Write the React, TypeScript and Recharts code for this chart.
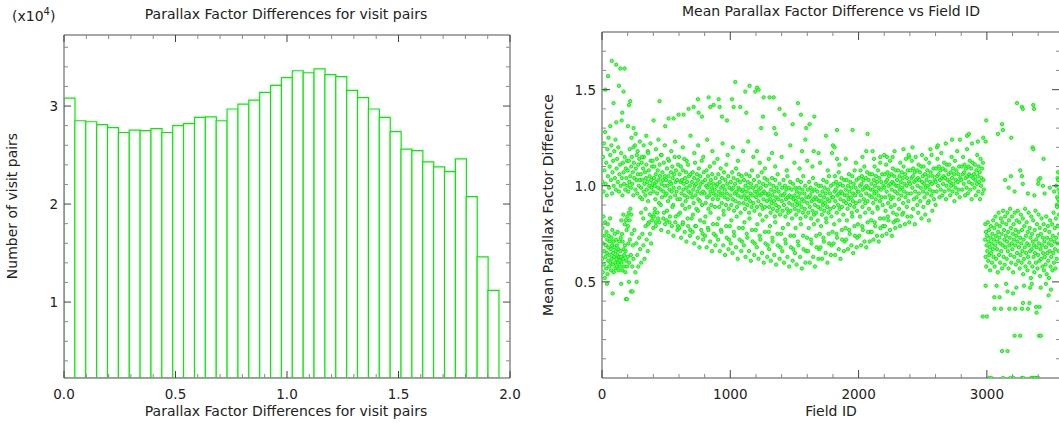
import React from 'react';
import { BarChart, Bar, XAxis, YAxis, ScatterChart, Scatter } from 'recharts';

// ---------- Histogram data ----------
const histBinCenters = [
  0.0244, 0.0731, 0.1219, 0.1706, 0.2194, 0.2681, 0.3169, 0.3656, 0.4144, 0.4631,
  0.5119, 0.5606, 0.6094, 0.6581, 0.7069, 0.7556, 0.8044, 0.8531, 0.9019, 0.9506,
  0.9994, 1.0481, 1.0969, 1.1456, 1.1944, 1.2431, 1.2919, 1.3406, 1.3894, 1.4381,
  1.4869, 1.5356, 1.5844, 1.6331, 1.6819, 1.7306, 1.7794, 1.8281, 1.8769, 1.9256,
];
const histCounts = [
  30800, 28500, 28400, 28100, 27800, 27300, 27550, 27500, 27700, 27300,
  28000, 28200, 28850, 28900, 28500, 29700, 30200, 30600, 31400, 32100,
  32900, 33600, 33400, 33800, 33200, 33000, 31600, 30850, 29700, 28850,
  27400, 25600, 25450, 24300, 23800, 23300, 24600, 20750, 14600, 11200,
];
const histXTicks = [0, 0.1, 0.2, 0.3, 0.4, 0.5, 0.6, 0.7, 0.8, 0.9, 1.0, 1.1, 1.2, 1.3, 1.4, 1.5, 1.6, 1.7, 1.8, 1.9, 2.0];
const histYTicks = [4000, 6000, 8000, 10000, 12000, 14000, 16000, 18000, 20000, 22000, 24000, 26000, 28000, 30000, 32000, 34000, 36000];

// ---------- Scatter data: [field ID, mean parallax factor difference] ----------
const fieldTicks = [0, 200, 400, 600, 800, 1000, 1200, 1400, 1600, 1800, 2000, 2200, 2400, 2600, 2800, 3000, 3200, 3400];
const meanTicks = [0.1, 0.2, 0.3, 0.4, 0.5, 0.6, 0.7, 0.8, 0.9, 1.0, 1.1, 1.2, 1.3, 1.4, 1.5, 1.6, 1.7];

const earlyUpperPts = [
  [3,1.02],[8,1.15],[12,0.97],[15,1.22],[19,1.08],[24,1.28],[28,1.01],[33,1.12],[37,0.95],[42,1.19],[46,1.05],[51,1.25],
  [55,0.99],[60,1.10],[64,1.16],[69,1.03],[73,1.21],[78,0.96],[82,1.07],[87,1.13],[91,1.00],[96,1.18],[100,1.04],[105,1.24],
  [109,0.98],[114,1.09],[118,1.14],[123,1.02],[127,1.20],[132,0.97],[136,1.06],[141,1.11],[145,1.00],[150,1.17],[154,1.04],
  [159,0.95],[163,1.12],[168,1.07],[172,1.01],[177,1.15],[181,0.98],[186,1.09],[190,1.04],[195,1.13],[199,1.00],
];
const earlyLowerPts = [
  [2,0.62],[4,0.78],[6,0.55],[9,0.70],[11,0.84],[14,0.59],[17,0.66],[20,0.74],[22,0.52],[25,0.81],[27,0.63],[30,0.69],
  [32,0.57],[35,0.76],[38,0.65],[40,0.72],[43,0.54],[45,0.80],[48,0.61],[50,0.68],[53,0.74],[56,0.58],[58,0.64],[61,0.71],
  [63,0.83],[66,0.60],[68,0.67],[71,0.56],[74,0.73],[76,0.62],[79,0.69],[81,0.77],[84,0.59],[86,0.65],[89,0.71],[92,0.55],
  [94,0.63],[97,0.68],[99,0.75],[102,0.60],[104,0.57],[107,0.66],[110,0.72],[112,0.62],[115,0.58],[117,0.69],[120,0.64],
  [122,0.76],[125,0.60],[128,0.67],[130,0.56],[133,0.63],[135,0.71],[138,0.61],[140,0.58],[143,0.66],[146,0.73],[148,0.63],
  [151,0.82],[153,0.60],[156,0.75],[158,0.56],[161,0.71],[164,0.62],[166,0.85],[169,0.67],[171,0.58],[174,0.64],[176,0.80],
  [179,0.69],[182,0.55],[184,0.66],[187,0.82],[189,0.61],[192,0.77],[195,0.58],[197,0.84],[200,0.63],[203,0.79],[206,0.70],
  [209,0.86],[212,0.60],[215,0.82],[218,0.72],[221,0.88],[225,0.64],[229,0.85],[233,0.75],[236,0.58],[240,0.69],
  [245,0.62],[252,0.77],[260,0.55],[268,0.70],[275,0.64],[283,0.58],[290,0.73],[298,0.67],[306,0.60],[315,0.75],[323,0.69],
  [331,0.62],[340,0.79],[348,0.72],[357,0.66],[366,0.81],[374,0.75],[383,0.70],[392,0.84],[400,0.78],[410,0.86],[420,0.81],
  [39,0.49],[83,0.44],[150,0.49],[187,0.41],[210,0.50],[226,0.45],[238,0.45],[270,0.50],[195,0.41],
];
const bandPts = [
  [201,1.08],[204,0.97],[209,1.13],[213,1.02],[216,1.19],[221,1.05],[225,0.99],[228,1.10],[232,1.15],[236,1.01],[240,1.07],[244,0.95],[249,1.12],[252,1.04],[257,1.21],[260,0.98],[264,1.09],[268,1.03],[271,1.16],[275,0.96],[279,1.06],[283,1.11],[287,1.00],[290,1.14],[294,1.03],[298,0.94],
  [302,1.06],[305,0.99],[309,1.12],[313,0.93],[316,1.03],[320,1.09],[324,0.97],[327,1.15],[331,1.01],[335,1.07],[338,0.95],[342,1.04],[346,1.11],[349,0.98],[353,1.02],[357,1.18],[360,0.92],[364,1.08],[368,1.00],[371,1.05],[375,0.96],[379,1.13],[383,1.03],[386,0.99],[390,1.10],[395,1.01],
  [401,0.97],[405,1.04],[408,1.10],[412,1.00],[416,0.93],[419,1.06],[423,1.02],[427,1.14],[430,0.96],[434,1.08],[438,0.99],[441,1.03],[445,0.91],[449,1.11],[452,1.05],[456,0.98],[460,1.16],[463,1.01],[467,0.94],[471,1.07],[474,1.03],[478,0.97],[482,1.12],[486,1.00],[489,1.05],[494,0.95],
  [500,1.03],[504,0.96],[507,1.09],[511,1.00],[515,0.92],[518,1.05],[522,1.13],[526,0.98],[529,1.02],[533,0.94],[537,1.07],[540,1.01],[544,0.97],[548,1.10],[551,1.04],[555,0.90],[559,0.99],[562,1.06],[566,1.15],[570,0.95],[573,1.02],[577,1.08],[581,0.97],[585,1.03],[588,0.93],[593,1.11],
  [601,0.99],[604,1.06],[608,0.93],[612,1.02],[615,1.10],[619,0.96],[623,1.03],[626,0.90],[630,1.08],[634,0.98],[637,1.01],[641,1.14],[645,0.95],[648,1.04],[652,0.92],[656,1.07],[659,0.99],[663,1.02],[667,0.94],[670,1.11],[674,0.97],[678,1.05],[681,0.89],[685,1.00],[689,1.06],[694,0.96],
  [700,1.02],[703,0.94],[707,1.07],[711,0.98],[714,0.91],[718,1.04],[722,1.00],[725,1.12],[729,0.95],[733,1.01],[736,0.88],[740,1.06],[744,0.97],[747,1.03],[751,0.93],[755,1.09],[758,0.99],[762,0.92],[766,1.05],[769,1.01],[773,0.96],[777,1.13],[780,0.90],[784,1.02],[788,0.97],[793,1.07],
  [801,0.96],[804,1.03],[808,0.91],[812,1.00],[815,1.08],[819,0.94],[823,0.99],[826,1.05],[830,0.88],[834,1.01],[837,0.95],[841,1.10],[845,0.97],[848,1.03],[852,0.90],[856,0.99],[859,1.06],[863,0.93],[867,1.01],[870,0.96],[874,1.12],[878,0.98],[881,0.89],[885,1.04],[889,0.95],[894,1.00],
  [900,1.01],[903,0.93],[907,1.06],[911,0.97],[914,0.89],[918,1.02],[922,0.95],[925,1.09],[929,0.99],[933,0.91],[936,1.04],[940,0.96],[944,1.00],[947,0.87],[951,1.07],[955,0.94],[958,0.98],[962,1.03],[966,0.90],[969,1.11],[973,0.96],[977,1.01],[980,0.93],[984,1.05],[988,0.88],[993,0.99],
  [1001,0.95],[1004,1.02],[1008,0.90],[1012,0.98],[1015,1.07],[1019,0.93],[1023,0.99],[1026,1.04],[1030,0.87],[1034,0.96],[1037,1.01],[1041,0.92],[1045,1.09],[1048,0.97],[1052,0.89],[1056,1.03],[1059,0.95],[1063,0.99],[1067,1.06],[1070,0.91],[1074,0.98],[1078,1.02],[1081,0.86],[1085,0.94],[1089,1.05],[1094,0.97],
  [1100,0.98],[1103,0.91],[1107,1.03],[1111,0.95],[1114,0.88],[1118,1.00],[1122,0.93],[1125,1.06],[1129,0.97],[1133,0.90],[1136,1.02],[1140,0.94],[1144,0.99],[1147,0.86],[1151,1.05],[1155,0.92],[1158,0.96],[1162,1.01],[1166,0.89],[1169,1.08],[1173,0.95],[1177,0.99],[1180,0.91],[1184,1.03],[1188,0.87],[1193,0.97],
  [1201,0.94],[1204,1.00],[1208,0.89],[1212,0.96],[1215,1.05],[1219,0.92],[1223,0.98],[1226,1.02],[1230,0.85],[1234,0.95],[1237,0.99],[1241,0.90],[1245,1.07],[1248,0.96],[1252,0.88],[1256,1.01],[1259,0.93],[1263,0.97],[1267,1.04],[1270,0.89],[1274,0.96],[1278,1.00],[1281,0.84],[1285,0.92],[1289,1.03],[1294,0.95],
  [1300,0.96],[1303,0.89],[1307,1.01],[1311,0.93],[1314,0.86],[1318,0.98],[1322,0.91],[1325,1.04],[1329,0.95],[1333,0.88],[1336,1.00],[1340,0.92],[1344,0.97],[1347,0.84],[1351,1.03],[1355,0.90],[1358,0.94],[1362,0.99],[1366,0.87],[1369,1.06],[1373,0.93],[1377,0.97],[1380,0.89],[1384,1.01],[1388,0.85],[1393,0.95],
  [1401,0.92],[1404,0.99],[1408,0.87],[1412,0.95],[1415,1.03],[1419,0.90],[1423,0.96],[1426,1.00],[1430,0.84],[1434,0.93],[1437,0.98],[1441,0.88],[1445,1.05],[1448,0.94],[1452,0.86],[1456,0.99],[1459,0.91],[1463,0.95],[1467,1.02],[1470,0.87],[1474,0.94],[1478,0.98],[1481,0.83],[1485,0.90],[1489,1.01],[1494,0.93],
  [1500,0.95],[1503,0.88],[1507,0.99],[1511,0.92],[1514,0.85],[1518,0.97],[1522,0.90],[1525,1.03],[1529,0.94],[1533,0.87],[1536,0.99],[1540,0.91],[1544,0.96],[1547,0.83],[1551,1.02],[1555,0.89],[1558,0.93],[1562,0.98],[1566,0.86],[1569,1.05],[1573,0.92],[1577,0.96],[1580,0.88],[1584,1.00],[1588,0.84],[1593,0.94],
  [1601,0.91],[1604,0.98],[1608,0.86],[1612,0.94],[1615,1.02],[1619,0.89],[1623,0.95],[1626,0.99],[1630,0.83],[1634,0.92],[1637,0.97],[1641,0.87],[1645,1.04],[1648,0.93],[1652,0.85],[1656,0.98],[1659,0.90],[1663,0.94],[1667,1.01],[1670,0.86],[1674,0.93],[1678,0.97],[1681,0.82],[1685,0.89],[1689,1.00],[1694,0.92],
  [1700,0.95],[1703,0.88],[1707,1.00],[1711,0.92],[1714,0.85],[1718,0.97],[1722,0.90],[1725,1.03],[1729,0.94],[1733,0.87],[1736,0.99],[1740,0.91],[1744,0.96],[1747,0.83],[1751,1.02],[1755,0.89],[1758,0.93],[1762,0.98],[1766,0.86],[1769,1.05],[1773,0.92],[1777,0.96],[1780,0.88],[1784,1.00],[1788,0.84],[1793,0.94],
  [1801,0.94],[1804,1.01],[1808,0.89],[1812,0.97],[1815,1.05],[1819,0.92],[1823,0.98],[1826,1.02],[1830,0.86],[1834,0.95],[1837,1.00],[1841,0.90],[1845,1.07],[1848,0.96],[1852,0.88],[1856,1.01],[1859,0.93],[1863,0.97],[1867,1.04],[1870,0.89],[1874,0.96],[1878,1.00],[1881,0.85],[1885,0.92],[1889,1.03],[1894,0.95],
  [1900,0.98],[1903,0.91],[1907,1.03],[1911,0.95],[1914,0.88],[1918,1.00],[1922,0.93],[1925,1.06],[1929,0.97],[1933,0.90],[1936,1.02],[1940,0.94],[1944,0.99],[1947,0.86],[1951,1.05],[1955,0.92],[1958,0.96],[1962,1.01],[1966,0.89],[1969,1.08],[1973,0.95],[1977,0.99],[1980,0.91],[1984,1.03],[1988,0.87],[1993,0.97],
  [2001,0.97],[2004,1.04],[2008,0.92],[2012,1.00],[2015,1.08],[2019,0.95],[2023,1.01],[2026,1.05],[2030,0.89],[2034,0.98],[2037,1.03],[2041,0.93],[2045,1.10],[2048,0.99],[2052,0.91],[2056,1.04],[2059,0.96],[2063,1.00],[2067,1.07],[2070,0.92],[2074,0.99],[2078,1.03],[2081,0.88],[2085,0.95],[2089,1.06],[2094,0.98],
  [2100,1.01],[2103,0.94],[2107,1.06],[2111,0.98],[2114,0.91],[2118,1.03],[2122,0.96],[2125,1.10],[2129,1.00],[2133,0.93],[2136,1.05],[2140,0.97],[2144,1.02],[2147,0.89],[2151,1.08],[2155,0.95],[2158,0.99],[2162,1.04],[2166,0.92],[2169,1.12],[2173,0.98],[2177,1.02],[2180,0.94],[2184,1.06],[2188,0.90],[2193,1.00],
  [2201,0.99],[2204,1.06],[2208,0.94],[2212,1.02],[2215,1.11],[2219,0.97],[2223,1.03],[2226,1.07],[2230,0.91],[2234,1.00],[2237,1.05],[2241,0.95],[2245,1.13],[2248,1.01],[2252,0.93],[2256,1.06],[2259,0.98],[2263,1.02],[2267,1.09],[2270,0.94],[2274,1.01],[2278,1.05],[2281,0.90],[2285,0.97],[2289,1.08],[2294,1.00],
  [2300,1.03],[2303,0.96],[2307,1.08],[2311,1.00],[2314,0.93],[2318,1.05],[2322,0.98],[2325,1.12],[2329,1.02],[2333,0.95],[2336,1.07],[2340,0.99],[2344,1.04],[2347,0.91],[2351,1.10],[2355,0.97],[2358,1.01],[2362,1.06],[2366,0.94],[2369,1.14],[2373,1.00],[2377,1.04],[2380,0.96],[2384,1.08],[2388,0.92],[2393,1.02],
  [2401,1.01],[2404,1.08],[2408,0.96],[2412,1.04],[2415,1.13],[2419,0.99],[2423,1.05],[2426,1.09],[2430,0.93],[2434,1.02],[2437,1.07],[2441,0.97],[2445,1.15],[2448,1.03],[2452,0.94],[2456,1.08],[2459,1.00],[2463,1.04],[2467,1.11],[2470,0.96],[2474,1.03],[2478,1.07],[2481,0.92],[2485,0.99],[2489,1.10],[2494,1.02],
  [2500,1.05],[2503,0.97],[2507,1.10],[2511,1.01],[2514,0.94],[2518,1.06],[2522,0.99],[2525,1.14],[2529,1.03],[2533,0.96],[2536,1.08],[2540,1.00],[2544,1.05],[2547,0.92],[2551,1.12],[2555,0.98],[2558,1.02],[2562,1.07],[2566,0.95],[2569,1.16],[2573,1.01],[2577,1.05],[2580,0.97],[2584,1.09],[2588,0.93],[2593,1.03],
  [2601,1.02],[2604,1.09],[2608,0.97],[2612,1.05],[2615,1.14],[2619,1.00],[2623,1.06],[2626,1.10],[2630,0.94],[2634,1.03],[2637,1.08],[2641,0.98],[2645,1.17],[2648,1.04],[2652,0.95],[2656,1.09],[2659,1.01],[2663,1.05],[2667,1.12],[2670,0.97],[2674,1.04],[2678,1.08],[2681,0.93],[2685,1.00],[2689,1.11],[2694,1.03],
  [2700,1.06],[2703,0.98],[2707,1.11],[2711,1.02],[2714,0.95],[2718,1.07],[2722,1.00],[2725,1.15],[2729,1.04],[2733,0.97],[2736,1.09],[2740,1.01],[2744,1.06],[2747,0.92],[2751,1.13],[2755,0.99],[2758,1.03],[2762,1.08],[2766,0.96],[2769,1.18],[2773,1.02],[2777,1.06],[2780,0.98],[2784,1.10],[2788,0.94],[2793,1.04],
  [2801,1.03],[2804,1.10],[2808,0.98],[2812,1.06],[2815,1.15],[2819,1.01],[2823,1.07],[2826,1.11],[2830,0.95],[2834,1.04],[2837,1.09],[2841,0.99],[2845,1.19],[2848,1.05],[2852,0.96],[2856,1.10],[2859,1.02],[2863,1.06],[2867,1.13],[2870,0.98],[2874,1.05],[2878,1.09],[2881,0.93],[2885,1.01],[2889,1.12],[2894,1.04],
  [2900,1.06],[2903,0.99],[2907,1.11],[2911,1.03],[2914,0.95],[2918,1.08],[2922,1.01],[2925,1.16],[2929,1.05],[2933,0.97],[2936,1.10],[2940,1.02],[2944,1.07],[2947,0.93],[2951,1.14],[2955,1.00],[2958,1.04],[2962,1.09],[2966,0.96],[2969,1.12],[2973,1.03],[2977,0.98],
];
const midFillPts = [
  [412,0.88],[437,0.83],[458,0.90],[483,0.86],
  [507,0.87],[526,0.81],[549,0.89],[574,0.84],[593,0.79],
  [609,0.86],[628,0.80],[649,0.88],[667,0.83],[688,0.77],
  [709,0.85],[727,0.79],[748,0.87],[765,0.82],[784,0.75],
  [806,0.84],[825,0.78],[846,0.86],[866,0.80],[887,0.74],
  [909,0.83],[928,0.77],[949,0.85],[968,0.79],[990,0.72],
  [1008,0.82],[1027,0.76],[1050,0.84],[1068,0.78],[1091,0.71],
  [1110,0.81],[1128,0.75],[1150,0.83],[1169,0.77],[1191,0.70],
  [1211,0.80],[1229,0.74],[1252,0.82],[1270,0.76],[1292,0.69],
  [1309,0.79],[1328,0.73],[1350,0.81],[1368,0.75],[1390,0.68],
  [1410,0.78],[1428,0.72],[1451,0.80],[1469,0.74],[1491,0.67],
  [1509,0.78],[1527,0.71],[1550,0.80],[1568,0.74],[1590,0.66],
  [1611,0.78],[1629,0.72],[1652,0.80],[1670,0.74],[1692,0.67],
  [1708,0.79],[1726,0.73],[1749,0.81],[1767,0.75],[1789,0.69],
  [1810,0.80],[1828,0.75],[1851,0.82],[1869,0.77],[1891,0.71],
  [1909,0.82],[1927,0.77],[1950,0.84],[1968,0.79],[1990,0.73],
  [2011,0.84],[2029,0.79],[2052,0.86],[2070,0.81],[2092,0.76],
  [2108,0.86],[2126,0.81],[2149,0.88],[2167,0.83],[2189,0.79],
  [2210,0.87],[2228,0.84],[2251,0.89],[2269,0.86],[2291,0.82],
  [2315,0.88],[2348,0.86],[2376,0.89],[2425,0.88],[2458,0.90],[2505,0.89],[2540,0.91],[2600,0.90],
];
const lowerBranchPts = [
  [305,0.86],[322,0.83],[340,0.88],[358,0.80],[372,0.85],[390,0.82],
  [405,0.84],[418,0.79],[433,0.86],[447,0.81],[462,0.77],[478,0.83],[492,0.80],
  [503,0.82],[516,0.76],[529,0.84],[544,0.79],[557,0.74],[571,0.81],[588,0.77],[596,0.85],
  [604,0.78],[617,0.73],[631,0.81],[645,0.76],[658,0.71],[672,0.79],[686,0.74],[699,0.83],
  [706,0.76],[719,0.70],[733,0.79],[747,0.73],[760,0.68],[774,0.77],[788,0.72],[797,0.81],
  [803,0.74],[816,0.68],[830,0.77],[843,0.71],[857,0.66],[871,0.75],[884,0.69],[898,0.80],
  [905,0.72],[918,0.66],[932,0.76],[945,0.69],[959,0.64],[972,0.73],[986,0.67],[996,0.79],
  [1004,0.70],[1017,0.65],[1031,0.74],[1045,0.68],[1058,0.62],[1072,0.72],[1086,0.66],[1097,0.78],
  [1106,0.69],[1119,0.63],[1133,0.73],[1146,0.66],[1160,0.61],[1173,0.71],[1187,0.64],[1198,0.77],
  [1207,0.68],[1220,0.62],[1234,0.72],[1247,0.65],[1261,0.60],[1274,0.70],[1288,0.63],[1299,0.76],
  [1303,0.67],[1316,0.61],[1330,0.71],[1343,0.64],[1357,0.59],[1370,0.69],[1384,0.62],[1396,0.75],
  [1405,0.66],[1418,0.60],[1432,0.70],[1445,0.63],[1459,0.58],[1472,0.68],[1486,0.61],[1497,0.74],
  [1504,0.65],[1517,0.59],[1531,0.69],[1544,0.63],[1558,0.57],[1571,0.67],[1585,0.60],[1598,0.73],
  [1606,0.66],[1619,0.60],[1633,0.70],[1646,0.63],[1660,0.58],[1673,0.68],[1687,0.62],[1698,0.75],
  [1703,0.68],[1716,0.62],[1730,0.71],[1743,0.65],[1757,0.60],[1770,0.70],[1784,0.64],[1797,0.76],
  [1805,0.70],[1818,0.64],[1832,0.73],[1845,0.67],[1859,0.62],[1872,0.72],[1886,0.66],[1898,0.78],
  [1904,0.72],[1917,0.67],[1931,0.75],[1944,0.69],[1958,0.65],[1971,0.74],[1985,0.68],[1996,0.80],
  [2006,0.74],[2019,0.69],[2033,0.77],[2046,0.71],[2060,0.68],[2073,0.76],[2087,0.71],[2098,0.82],
  [2103,0.76],[2116,0.72],[2130,0.79],[2143,0.74],[2157,0.71],[2170,0.78],[2184,0.74],[2197,0.83],
  [2205,0.79],[2218,0.75],[2232,0.82],[2245,0.77],[2259,0.74],[2272,0.81],[2286,0.78],[2298,0.85],
  [2306,0.82],[2322,0.79],[2340,0.85],[2361,0.80],[2380,0.84],[2395,0.81],
  [2412,0.84],[2438,0.80],[2465,0.86],[2490,0.83],[2520,0.85],[2548,0.82],[2575,0.87],
];
const upperArcPts = [
  [26,1.50],[47,1.57],[76,1.65],[111,1.63],[143,1.61],[176,1.61],[132,1.52],[168,1.49],[90,1.43],[220,1.44],[210,1.42],
  [158,1.38],[111,1.33],[65,1.31],[202,1.31],[153,1.34],[449,1.44],[246,1.30],[402,1.34],[493,1.31],[519,1.35],[558,1.35],
  [597,1.37],[636,1.37],[675,1.40],[714,1.41],[748,1.45],[753,1.38],[779,1.36],[831,1.46],[844,1.41],[870,1.42],[909,1.45],
  [917,1.41],[935,1.36],[974,1.34],[1013,1.45],[1026,1.41],[1039,1.54],[1078,1.41],[1117,1.49],[1150,1.52],[1125,1.38],
  [1195,1.49],[1208,1.51],[1221,1.50],[1260,1.46],[1306,1.46],[1338,1.46],[1384,1.40],[1527,1.43],[1255,1.36],[1423,1.37],
  [1551,1.37],[1655,1.36],[1241,1.30],[1343,1.30],[1356,1.27],[1486,1.32],[1592,1.30],[1618,1.32],[1585,1.24],[1746,1.26],
  [1832,1.29],[1953,1.29],[2070,1.27],[1468,1.21],[1559,1.18],[1800,1.21],[1813,1.20],[1650,1.18],[1208,1.18],[1325,1.17],
  [2060,1.18],[2109,1.18],[1688,1.17],[1793,1.17],[1832,1.14],[2169,1.15],[2221,1.15],[2265,1.15],[2395,1.15],
  [230,1.25],[245,1.20],[262,1.27],[278,1.18],[295,1.23],[310,1.15],[325,1.21],[345,1.26],[360,1.17],[378,1.22],[395,1.13],
  [420,1.19],[440,1.24],[465,1.16],[490,1.21],[515,1.14],[540,1.18],[570,1.23],[600,1.15],[630,1.20],[660,1.13],[690,1.26],
  [720,1.17],[750,1.21],[790,1.15],[820,1.24],[860,1.18],[900,1.14],[940,1.22],[980,1.16],[1020,1.20],[1060,1.13],[1100,1.18],
  [1140,1.23],[1180,1.15],[1230,1.12],[1270,1.09],[1300,1.14],[1350,1.10],[1400,1.15],[1440,1.08],[1500,1.12],[1540,1.09],
  [1600,1.13],[1640,1.10],[1700,1.12],[1760,1.08],[1850,1.11],[1900,1.14],[1980,1.12],[2030,1.15],[2120,1.14],[2200,1.16],
  [2280,1.18],[2350,1.19],[2420,1.20],[2611,1.20],[2618,1.21],[2728,1.24],[2845,1.26],[2860,1.27],[2972,1.25],[2990,1.23],
  [2884,1.22],[2390,1.16],[2495,1.16],[2560,1.19],[2680,1.22],[2790,1.24],[2930,1.23],
];
const tailPts = [
  [2995,1.34],[3118,1.32],[3125,1.29],[3087,1.27],[3190,1.25],[3235,1.43],[3273,1.41],[3280,1.40],[3362,1.42],[3368,1.40],
  [3356,1.20],[3362,1.19],[3442,1.14],[3260,1.08],[3273,1.05],[3416,1.04],[3403,1.03],[3437,1.00],[3187,1.05],[3143,1.03],
  [3216,0.97],[3551,1.04],[3555,1.03],[3170,0.99],[3280,1.01],[3320,0.96],[3370,0.95],[3400,1.01],[3450,0.96],[3490,0.99],
  [3525,0.97],[3540,1.00],[3548,0.94],[3560,0.98],[3565,0.92],[3555,1.07],[3545,0.90],
  [2986,0.72],[2988,0.80],[2990,0.63],[2993,0.76],[2995,0.58],[2998,0.69],[3001,0.74],[3004,0.66],[3007,0.81],[3010,0.61],
  [3013,0.71],[3016,0.77],[3019,0.64],[3022,0.68],[3025,0.56],[3028,0.73],[3031,0.79],[3034,0.65],[3037,0.70],[3040,0.60],
  [3043,0.75],[3046,0.67],[3049,0.82],[3052,0.63],
  [3055,0.72],[3058,0.78],[3061,0.58],[3064,0.69],[3067,0.84],[3070,0.74],[3073,0.62],[3076,0.80],[3079,0.67],[3082,0.71],
  [3085,0.55],[3088,0.76],[3091,0.86],[3094,0.64],[3097,0.73],[3100,0.79],[3103,0.60],[3106,0.70],[3109,0.83],[3112,0.66],
  [3115,0.75],[3118,0.57],[3121,0.81],[3124,0.69],[3127,0.87],[3130,0.63],[3133,0.77],[3136,0.72],[3139,0.59],[3142,0.84],
  [3145,0.68],[3148,0.74],
  [3151,0.80],[3154,0.62],[3157,0.71],[3160,0.86],[3163,0.66],[3166,0.76],[3169,0.57],[3172,0.82],[3175,0.69],[3178,0.73],
  [3181,0.88],[3184,0.64],[3187,0.78],[3190,0.60],[3193,0.70],[3196,0.84],[3199,0.67],[3202,0.75],[3205,0.55],[3208,0.80],
  [3211,0.72],[3214,0.63],[3217,0.86],[3220,0.69],[3223,0.77],[3226,0.59],[3229,0.74],[3232,0.82],[3235,0.65],[3238,0.71],
  [3241,0.87],[3244,0.61],[3247,0.76],
  [3250,0.68],[3253,0.81],[3256,0.57],[3259,0.73],[3262,0.64],[3265,0.85],[3268,0.70],[3271,0.60],[3274,0.77],[3277,0.66],
  [3280,0.83],[3283,0.54],[3286,0.72],[3289,0.62],[3292,0.79],[3295,0.68],[3298,0.88],[3301,0.58],[3304,0.74],[3307,0.65],
  [3310,0.81],[3313,0.70],[3316,0.56],[3319,0.76],[3322,0.63],[3325,0.86],[3328,0.69],[3331,0.60],[3334,0.78],[3337,0.66],
  [3340,0.73],[3343,0.52],[3346,0.84],
  [3349,0.67],[3352,0.75],[3355,0.58],[3358,0.71],[3361,0.82],[3364,0.63],[3367,0.69],[3370,0.55],[3373,0.77],[3376,0.65],
  [3379,0.87],[3382,0.60],[3385,0.72],[3388,0.68],[3391,0.80],[3394,0.57],[3397,0.74],[3400,0.64],[3403,0.85],[3406,0.70],
  [3409,0.61],[3412,0.78],[3415,0.53],[3418,0.67],[3421,0.75],[3424,0.62],[3427,0.83],[3430,0.69],[3433,0.58],[3436,0.73],
  [3439,0.65],[3442,0.80],[3445,0.56],
  [3448,0.71],[3451,0.63],[3454,0.77],[3457,0.59],[3460,0.68],[3463,0.84],[3466,0.54],[3469,0.73],[3472,0.65],[3475,0.79],
  [3478,0.61],[3481,0.70],[3484,0.52],[3487,0.76],[3490,0.66],[3493,0.82],[3496,0.58],[3499,0.72],[3502,0.63],[3505,0.69],
  [3508,0.80],[3511,0.56],[3514,0.74],[3517,0.65],[3520,0.86],[3523,0.60],[3526,0.71],[3529,0.78],[3532,0.67],[3535,0.57],
  [3538,0.83],[3541,0.73],[3544,0.62],[3547,0.89],[3550,0.70],[3553,0.79],[3556,0.93],[3559,0.66],[3562,0.85],[3565,0.75],
  [3568,0.96],
  [2967,0.32],[3000,0.32],[3060,0.36],[3058,0.42],[3110,0.36],[3118,0.14],[3099,0.42],[3161,0.14],[3175,0.36],[3204,0.44],
  [3216,0.22],[3221,0.36],[3260,0.22],[3274,0.36],[3282,0.39],[3320,0.36],[3332,0.39],[3337,0.47],[3384,0.37],[3387,0.34],
  [3407,0.22],[3411,0.37],[3421,0.22],[3481,0.43],[3161,0.45],[2990,0.48],[3075,0.48],[3150,0.49],[3230,0.47],[3290,0.48],
  [3350,0.49],[3420,0.47],[3460,0.49],[3500,0.46],
  [3019,0],[3034,0],[3126,0],[3183,0],[3207,0],[3274,0],[3284,0],[3346,0],[3357,0],[3369,0],[3375,0],[3393,0],[3400,0],
];

// ---------- built tables ----------
const histData = histBinCenters.map((x, i) => ({ x, c: histCounts[i] }));
const scatterData = [...earlyUpperPts, ...earlyLowerPts, ...bandPts, ...midFillPts, ...lowerBranchPts, ...upperArcPts, ...tailPts]
  .map(([f, v]) => ({ f, v }));

// ---------- style ----------
const FONT = 'DejaVu Sans';
const TEXT = '#222';
const AXIS = '#8a8a8a';
const GREEN = '#00ee00';

const near = (v: number, step: number) => Math.abs(v / step - Math.round(v / step)) < 1e-6;

function makeTick(side: string, majorStep: number, fmt: ((v: number) => string) | null, majLen: number, minLen: number) {
  return (props: any) => {
    const { x, y, payload } = props;
    const v = payload.value;
    const major = near(v, majorStep);
    const len = major ? majLen : minLen;
    const col = major ? '#444' : '#888';
    let line: any = null;
    let label: any = null;
    if (side === 'left') {
      line = <line x1={x} y1={y} x2={x + len} y2={y} stroke={col} strokeWidth={1} />;
      if (major && fmt) label = <text x={x - 6} y={y} dy="0.36em" textAnchor="end" fontSize={13.5} fill={TEXT} fontFamily={FONT}>{fmt(v)}</text>;
    } else if (side === 'right') {
      line = <line x1={x} y1={y} x2={x - len} y2={y} stroke={col} strokeWidth={1} />;
    } else if (side === 'bottom') {
      line = <line x1={x} y1={y} x2={x} y2={y - len} stroke={col} strokeWidth={1} />;
      if (major && fmt) label = <text x={x} y={y + 21} textAnchor="middle" fontSize={13.5} fill={TEXT} fontFamily={FONT}>{fmt(v)}</text>;
    } else {
      line = <line x1={x} y1={y} x2={x} y2={y + len} stroke={col} strokeWidth={1} />;
    }
    return <g>{line}{label}</g>;
  };
}

const dotShape = (props: any) =>
  props.cx == null ? <g /> : <circle cx={props.cx} cy={props.cy} r={1.7} fill="#5cff5c" stroke="#00e000" strokeWidth={0.8} />;

const axisLineStyle = { stroke: AXIS, strokeWidth: 1.5 };

export default function App() {
  return (
    <div style={{ position: 'fixed', left: 0, top: 0, width: 1059, height: 423, overflow: 'hidden', background: '#fff' }}>
      <div style={{ position: 'absolute', left: 0, top: 0 }}>
        <BarChart width={530} height={423} data={histData} margin={{ top: 30, right: 0, bottom: 0, left: 0 }} barCategoryGap={0} barGap={0}>
          <XAxis dataKey="x" type="number" domain={[0, 2]} allowDataOverflow ticks={histXTicks} interval={0}
            height={45} tickSize={0} tickMargin={0} tickLine={false} axisLine={axisLineStyle}
            tick={makeTick('bottom', 0.5, (v) => v.toFixed(1), 7, 4)} />
          <XAxis xAxisId="top" dataKey="x" orientation="top" type="number" domain={[0, 2]} allowDataOverflow ticks={histXTicks} interval={0}
            height={5} tickSize={0} tickMargin={0} tickLine={false} axisLine={axisLineStyle}
            tick={makeTick('top', 0.5, null, 7, 4)} />
          <YAxis type="number" domain={[2250, 37250]} allowDataOverflow ticks={histYTicks} interval={0}
            width={64} tickSize={0} tickMargin={0} tickLine={false} axisLine={axisLineStyle}
            tick={makeTick('left', 10000, (v) => String(Math.round(v / 10000)), 7, 4)} />
          <YAxis yAxisId="right" dataKey="c" orientation="right" type="number" domain={[2250, 37250]} allowDataOverflow ticks={histYTicks} interval={0}
            width={20} tickSize={0} tickMargin={0} tickLine={false} axisLine={axisLineStyle}
            tick={makeTick('right', 10000, null, 7, 4)} />
          <Bar dataKey="c" fill="#ffffff" stroke={GREEN} strokeWidth={1.2} isAnimationActive={false} />
        </BarChart>
      </div>
      <div style={{ position: 'absolute', left: 530, top: 0 }}>
        <ScatterChart width={540} height={423} margin={{ top: 27, right: 0, bottom: 0, left: 0 }}>
          <XAxis dataKey="f" type="number" domain={[0, 3570]} allowDataOverflow ticks={fieldTicks} interval={0}
            height={45} tickSize={0} tickMargin={0} tickLine={false} axisLine={axisLineStyle}
            tick={makeTick('bottom', 1000, (v) => String(v), 8, 4)} />
          <XAxis xAxisId="top" dataKey="f" orientation="top" type="number" domain={[0, 3570]} allowDataOverflow ticks={fieldTicks} interval={0}
            height={5} tickSize={0} tickMargin={0} tickLine={false} axisLine={axisLineStyle}
            tick={makeTick('top', 1000, null, 8, 4)} />
          <YAxis dataKey="v" type="number" domain={[0, 1.8]} allowDataOverflow ticks={meanTicks} interval={0}
            width={72} tickSize={0} tickMargin={0} tickLine={false} axisLine={axisLineStyle}
            tick={makeTick('left', 0.5, (v) => v.toFixed(1), 8, 4)} />
          <YAxis yAxisId="right" dataKey="v" orientation="right" type="number" domain={[0, 1.8]} allowDataOverflow ticks={meanTicks} interval={0}
            width={10} tickSize={0} tickMargin={0} tickLine={false} axisLine={axisLineStyle}
            tick={makeTick('right', 0.5, null, 8, 4)} />
          <Scatter data={scatterData} shape={dotShape} isAnimationActive={false} />
        </ScatterChart>
      </div>
      <svg width={1059} height={423} style={{ position: 'absolute', left: 0, top: 0, pointerEvents: 'none' }} fontFamily={FONT} fill={TEXT}>
        <text x={286} y={19} textAnchor="middle" fontSize={14}>Parallax Factor Differences for visit pairs</text>
        <text x={12} y={21} fontSize={14}>(x10<tspan fontSize={10} dy={-6}>4</tspan><tspan dy={6}>)</tspan></text>
        <text x={286} y={415.5} textAnchor="middle" fontSize={14}>Parallax Factor Differences for visit pairs</text>
        <text transform="translate(17,206) rotate(-90)" textAnchor="middle" fontSize={14}>Number of visit pairs</text>
        <text x={831} y={15.5} textAnchor="middle" fontSize={14}>Mean Parallax Factor Difference vs Field ID</text>
        <text x={831} y={415.5} textAnchor="middle" fontSize={14}>Field ID</text>
        <text transform="translate(553,205) rotate(-90)" textAnchor="middle" fontSize={14}>Mean Parallax Factor Difference</text>
      </svg>
    </div>
  );
}
